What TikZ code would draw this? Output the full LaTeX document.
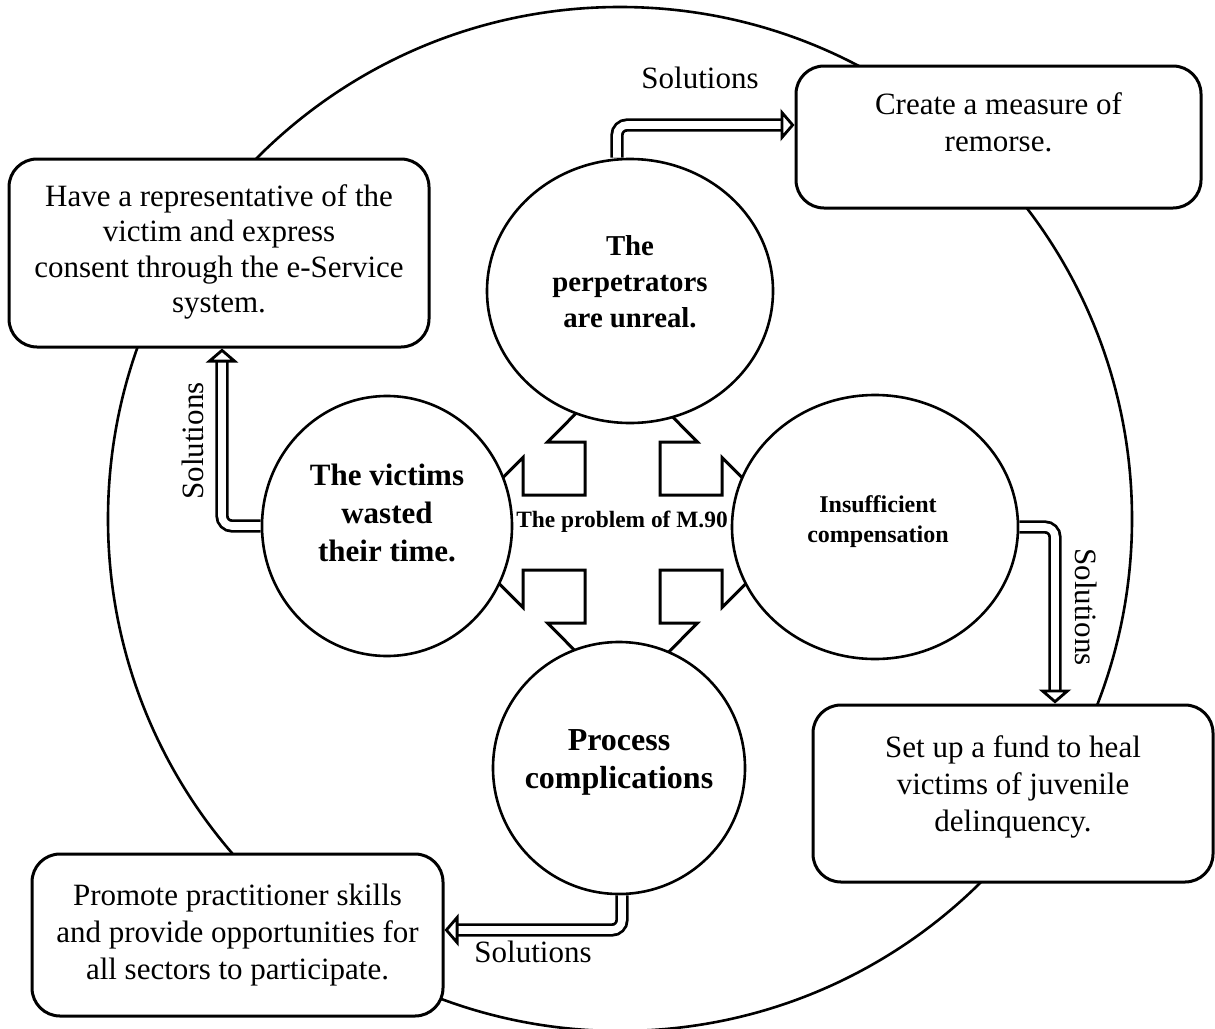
\documentclass[tikz,border=0pt]{standalone}
\usepackage{fontspec}
\setmainfont{Liberation Serif}
\usetikzlibrary{arrows.meta,shapes.geometric,positioning}
\begin{document}
\begin{tikzpicture}[
    x=0.5pt, y=-0.5pt,
    issue/.style={draw, ellipse, line width=1.3pt, fill=white, inner sep=0pt},
    remedy/.style={draw, rectangle, rounded corners=14pt, line width=1.5pt, fill=white},
    words/.style={align=center, font=\fontsize{15.5}{18.5}\selectfont},
    solarrow/.style={double, double distance=3.8pt, line width=1.4pt, rounded corners=5pt, -{Triangle[open, fill=white, length=7pt, width=16pt, line width=1.4pt]}},
    sollabel/.style={font=\fontsize{15.5}{18.5}\selectfont}
]
  \useasboundingbox (0,0) rectangle (1215,1028);

  % Outer ring
  \node[draw, circle, line width=1.3pt, minimum size=512pt] (ring) at (620,519) {};

  % Four-way arrow in the middle
  \coordinate (core) at (622.5,532.5);
  \draw[line width=1.5pt, shift={(core)}]
    (-75,-90.5) -- (0,-166) -- (75,-90.5) -- (37.5,-90.5) -- (37.5,-37.5)
    -- (99.5,-37.5) -- (99.5,-75) -- (174.5,0) -- (99.5,75) -- (99.5,37.5)
    -- (37.5,37.5) -- (37.5,90.5) -- (75,90.5) -- (0,166) -- (-75,90.5)
    -- (-37.5,90.5) -- (-37.5,37.5) -- (-99.5,37.5) -- (-99.5,75) -- (-174.5,0)
    -- (-99.5,-75) -- (-99.5,-37.5) -- (-37.5,-37.5) -- (-37.5,-90.5) -- cycle;

  % Problems
  \node[issue, minimum width=143pt, minimum height=132pt] (perp) at (630,291) {};
  \node[issue, minimum width=125pt, minimum height=130pt] (victims) at (387,526) {};
  \node[issue, minimum width=143pt, minimum height=132pt] (comp) at (875,527) {};
  \node[issue, minimum width=126pt, minimum height=126pt] (proc) at (619,768) {};

  \node[words, font=\bfseries\fontsize{14.4}{18}\selectfont] (perptxt) at ([yshift=4.5pt]perp.center) {The\\perpetrators\\are unreal.};
  \node[words, font=\bfseries\fontsize{15.5}{19}\selectfont] (victimstxt) at ([yshift=6.5pt]victims.center) {The victims\\wasted\\their time.};
  \node[words, font=\bfseries\fontsize{12}{15}\selectfont] (comptxt) at ([yshift=2.5pt,xshift=1.5pt]comp.center) {Insufficient\\compensation};
  \node[words, font=\bfseries\fontsize{16}{19}\selectfont] (proctxt) at ([yshift=3pt]proc.center) {Process\\complications};

  \node[font=\bfseries\fontsize{11.7}{14}\selectfont] (problem) at (622,522) {The problem of M.90};

  % Solutions
  \node[remedy, minimum width=210pt, minimum height=94pt] (rep) at (219,253) {};
  \node[remedy, minimum width=202.5pt, minimum height=71pt] (remorse) at (998.5,137) {};
  \node[remedy, minimum width=200pt, minimum height=88.5pt] (fund) at (1013,793.5) {};
  \node[remedy, minimum width=205.5pt, minimum height=81pt] (promote) at (237.5,935) {};

  \node[words, font=\fontsize{15.5}{17.7}\selectfont] (reptxt) at ([yshift=0.5pt]rep.center) {Have a representative of the\\victim and express\\consent through the e-Service\\system.};
  \node[words] (remorsetxt) at ([yshift=7.5pt]remorse.center) {Create a measure of\\remorse.};
  \node[words] (fundtxt) at ([yshift=3.5pt]fund.center) {Set up a fund to heal\\victims of juvenile\\delinquency.};
  \node[words] (promotetxt) at (promote.center) {Promote practitioner skills\\and provide opportunities for\\all sectors to participate.};

  \draw[solarrow] ([xshift=-6.5pt]perp.north) |- ([yshift=6pt]remorse.west);
  \draw[solarrow] (victims.west) -| ([xshift=1.5pt]rep.south);
  \draw[solarrow] (comp.east) -| ([xshift=21pt]fund.north);
  \draw[solarrow] ([xshift=1.5pt]proc.south) |- ([yshift=2.5pt]promote.east);

  % Labels
  \node[sollabel] (lbltop) at (700,78) {Solutions};
  \node[sollabel, rotate=90] (lblleft) at (193,441) {Solutions};
  \node[sollabel, rotate=-90] (lblright) at (1086,607) {Solutions};
  \node[sollabel] (lblbottom) at (533,952) {Solutions};
\end{tikzpicture}
\end{document}
